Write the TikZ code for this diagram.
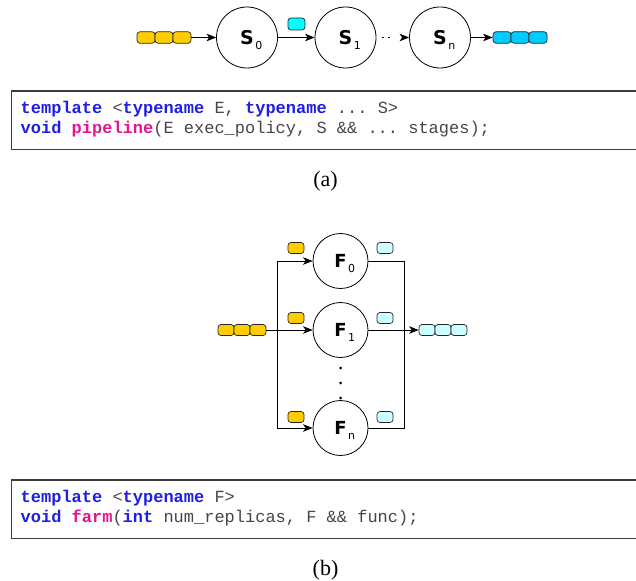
\documentclass[tikz,border=0pt]{standalone}
\usepackage{fontspec}
\setmainfont{Liberation Serif}
\setmonofont{Liberation Mono}
\newfontfamily\lblfont{DejaVu Sans}
\usetikzlibrary{arrows.meta}
\definecolor{kwblue}{RGB}{30,30,230}
\definecolor{kwpink}{RGB}{230,20,140}
\definecolor{codegray}{RGB}{70,70,70}
\definecolor{boxgray}{RGB}{60,60,60}
\definecolor{tokyellow}{RGB}{255,204,0}
\definecolor{tokcyan}{RGB}{0,255,255}
\definecolor{tokblue}{RGB}{0,204,255}
\definecolor{toklight}{RGB}{204,255,255}
\newcommand{\codekw}[1]{{\color{kwblue}\bfseries #1}}
\newcommand{\codefn}[1]{{\color{kwpink}\bfseries #1}}
\newcommand{\stlbl}[3]{{\fontsize{#3}{#3}\selectfont\lblfont\bfseries #1}\rlap{\hspace{1.5pt}\smash{\raisebox{-5pt}{\fontsize{11}{11}\selectfont\lblfont #2}}}}
\begin{document}
\begin{tikzpicture}[x=1pt,y=-1pt,
  stage/.style={circle, draw, line width=0.8pt, minimum size=61pt, inner sep=0pt},
  farmst/.style={stage, minimum size=55pt},
  tok/.style={rounded corners=3pt, draw=black!85, line width=0.7pt, minimum width=18pt, minimum height=11.5pt, inner sep=0pt},
  stok/.style={tok, minimum width=16pt, minimum height=11pt},
  arr/.style={-{Stealth[length=9.5pt,width=7.5pt,inset=2.5pt]}, line width=0.8pt},
  wire/.style={line width=0.8pt},
  codeline/.style={anchor=base west, inner sep=0pt, font=\ttfamily\fontsize{17}{20}\selectfont, text=codegray},
  codebox/.style={anchor=north west, minimum width=630pt, minimum height=58pt, inner sep=0pt},
  boxline/.style={draw=boxgray, line width=1.2pt},
  caption/.style={font=\fontsize{22}{22}\selectfont, inner sep=0pt},
  dot/.style={circle, fill=black, minimum size=3pt, inner sep=0pt}
]
\useasboundingbox (0,0) rectangle (636,580);

% ---------- (a) pipeline ----------
\node[tok, fill=tokyellow] (pi1) at (146,37.5) {};
\node[tok, fill=tokyellow] (pi2) at (164,37.5) {};
\node[tok, fill=tokyellow] (pi3) at (182,37.5) {};
\node[stage] (s0) at (247,37.5) {\stlbl{S}{0}{19}};
\node[stage] (s1) at (345.5,37.5) {\stlbl{S}{1}{19}};
\node[stage] (sn) at (440,37.5) {\stlbl{S}{n}{19}};
\node[tok, minimum width=17pt, minimum height=12pt, fill=tokcyan] (mid) at (296.5,24) {};
\node[tok, fill=tokblue] (po1) at (502,37.5) {};
\node[tok, fill=tokblue] (po2) at (520,37.5) {};
\node[tok, fill=tokblue] (po3) at (538,37.5) {};
\draw[arr] (pi3) -- (s0);
\draw[arr] (s0) -- (s1);
\draw[arr, dash pattern=on 0pt off 5.5pt on 1.6pt off 4.8pt on 1.6pt off 40pt] (s1) -- (sn);
\draw[arr] (sn) -- (po1);

\node[codebox] (box1) at (11.5,91) {};
\draw[boxline] (box1.north east) -- (box1.north west) -- (box1.south west) -- (box1.south east);
\node[codeline] (c1a) at (20.5,114) {\codekw{template} <\codekw{typename} E, \codekw{typename} ... S>};
\node[codeline] (c1b) at (20.5,134) {\codekw{void} \codefn{pipeline}(E exec\_policy, S \&\& ... stages);};
\node[caption] (capa) at (325.5,181) {(a)};

% ---------- (b) farm ----------
\node[stok, fill=tokyellow] (fi1) at (226,330) {};
\node[stok, fill=tokyellow] (fi2) at (242,330) {};
\node[stok, fill=tokyellow] (fi3) at (258,330) {};
\node[farmst] (f0) at (340.5,261) {\stlbl{F}{0}{18}};
\node[farmst] (f1) at (340.5,330) {\stlbl{F}{1}{18}};
\node[farmst] (fn) at (340.5,428) {\stlbl{F}{n}{18}};
\node[stok, fill=toklight] (fo1) at (427,330) {};
\node[stok, fill=toklight] (fo2) at (443,330) {};
\node[stok, fill=toklight] (fo3) at (459,330) {};
\node[stok, fill=tokyellow] (y0) at (296,248) {};
\node[stok, fill=tokyellow] (y1) at (296,318) {};
\node[stok, fill=tokyellow] (yn) at (296,417) {};
\node[stok, fill=toklight] (c0) at (385,248) {};
\node[stok, fill=toklight] (c1) at (385,318) {};
\node[stok, fill=toklight] (cn) at (385,417) {};
\node[dot] (d1) at (340.5,368) {};
\node[dot] (d2) at (340.5,383) {};
\node[dot] (d3) at (340.5,398) {};
\coordinate (split) at (277,330);
\coordinate (join) at (404,330);
\draw[arr] (fi3) -- (f1);
\draw[arr] (split) |- (f0);
\draw[arr] (split) |- (fn);
\draw[wire] (f0) -| (join);
\draw[wire] (fn) -| (join);
\draw[arr] (f1) -- (fo1);

\node[codebox] (box2) at (11.5,480) {};
\draw[boxline] (box2.north east) -- (box2.north west) -- (box2.south west) -- (box2.south east);
\node[codeline] (c2a) at (20.5,502) {\codekw{template} <\codekw{typename} F>};
\node[codeline] (c2b) at (20.5,522) {\codekw{void} \codefn{farm}(\codekw{int} num\_replicas, F \&\& func);};
\node[caption] (capb) at (325.5,570) {(b)};
\end{tikzpicture}
\end{document}
